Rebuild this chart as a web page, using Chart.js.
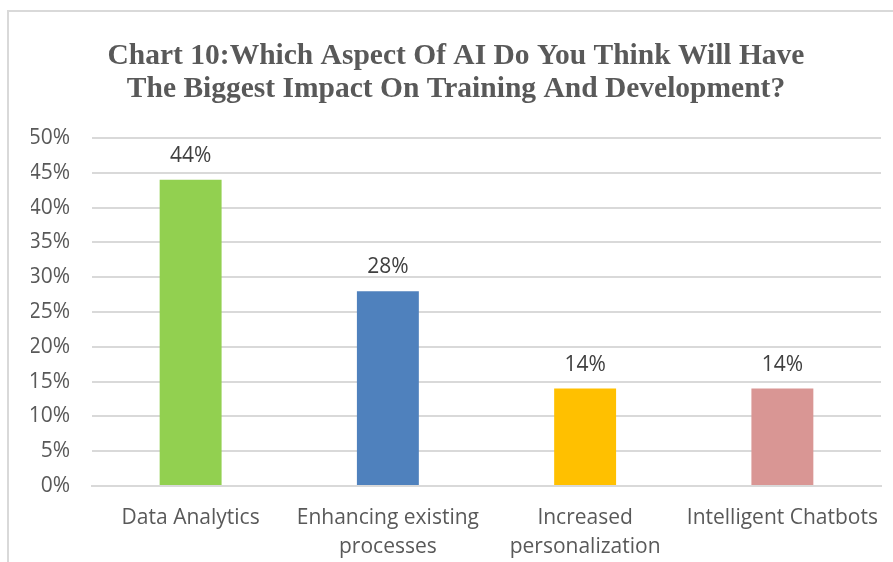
<!DOCTYPE html>
<html>
<head>
<meta charset="utf-8">
<script src="https://cdn.jsdelivr.net/npm/chart.js@4"></script>
<style>
  html, body { margin: 0; padding: 0; background: #fff; }
  #frame { position: absolute; left: 7px; top: 10px; width: 900px; height: 560px;
           border-left: 2px solid #d9d9d9; border-top: 2px solid #d9d9d9; }
  #wrap { position: absolute; left: 0; top: 0; width: 893px; height: 562px; }
</style>
</head>
<body>
<div id="frame"></div>
<div id="wrap"><canvas id="c" width="893" height="562"></canvas></div>
<script>
const categories = [["Data Analytics"], ["Enhancing existing", "processes"], ["Increased", "personalization"], ["Intelligent Chatbots"]];
const values = [44, 28, 14, 14];
const barColors = ["#92D050", "#4F81BD", "#FFC000", "#D99694"];
const titleLines = ["Chart 10:Which Aspect Of AI Do You Think Will Have", "The Biggest Impact On Training And Development?"];
const yTickStep = 5;
const yMax = 50;

const dataLabels = {
  id: 'dataLabels',
  afterDatasetsDraw(chart) {
    const ctx = chart.ctx;
    const meta = chart.getDatasetMeta(0);
    ctx.save();
    ctx.font = '21px "Open Sans"';
    ctx.fillStyle = '#404040';
    ctx.textAlign = 'center';
    ctx.textBaseline = 'middle';
    meta.data.forEach((bar, i) => {
      ctx.fillText(values[i] + '%', bar.x, bar.y - 24);
    });
    ctx.restore();
  }
};

new Chart(document.getElementById('c'), {
  type: 'bar',
  data: {
    labels: categories,
    datasets: [{
      data: values,
      backgroundColor: barColors,
      borderWidth: 0,
      barPercentage: 0.314,
      categoryPercentage: 1.0
    }]
  },
  options: {
    responsive: false,
    animation: false,
    layout: { padding: { left: 31, right: 12, top: 0, bottom: 0 } },
    plugins: {
      legend: { display: false },
      tooltip: { enabled: false },
      title: {
        display: true,
        text: titleLines,
        color: '#595959',
        font: { family: '"Liberation Serif"', size: 29.5, weight: 'bold', lineHeight: 1.12 },
        padding: { top: 40, bottom: 32 }
      }
    },
    scales: {
      y: {
        min: 0, max: yMax,
        ticks: {
          stepSize: yTickStep,
          callback: v => v + '%',
          color: '#595959',
          font: { family: '"Open Sans"', size: 21 },
          padding: 22
        },
        grid: { color: '#d9d9d9', lineWidth: 2, drawTicks: false },
        border: { display: false },
        afterFit(scale) { scale.width = 61; }
      },
      x: {
        ticks: {
          color: '#595959',
          font: { family: '"Open Sans"', size: 21, lineHeight: 1.4 },
          padding: 17,
          maxRotation: 0,
          autoSkip: false
        },
        grid: { display: false, drawTicks: false },
        border: { display: true, color: '#d9d9d9', width: 2 },
        afterFit(scale) { scale.height = 76; scale.paddingLeft = 0; scale.paddingRight = 0; }
      }
    }
  },
  plugins: [dataLabels]
});
</script>
</body>
</html>
